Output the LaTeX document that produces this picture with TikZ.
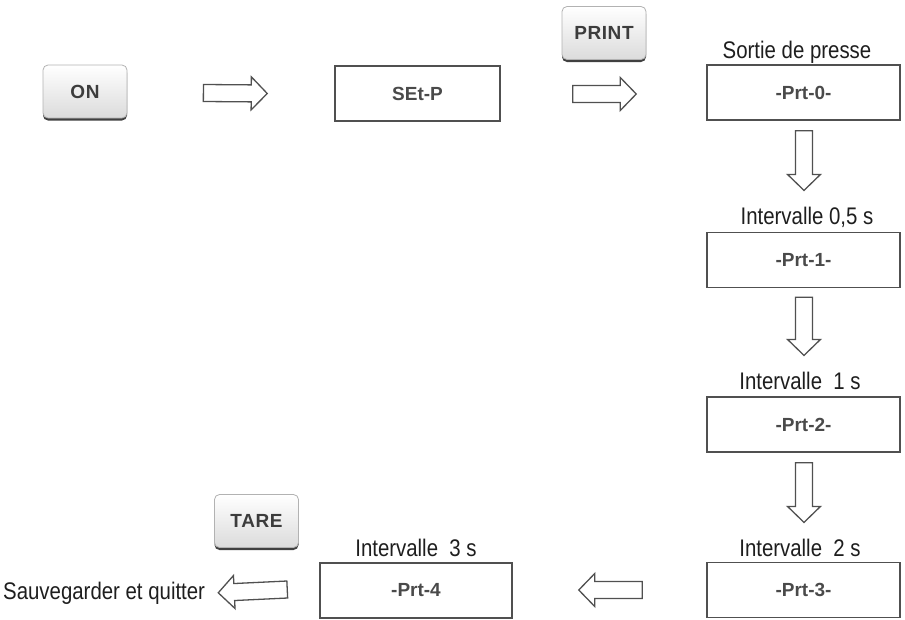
\documentclass[tikz,border=0pt]{standalone}
\usepackage{fontspec}
\setmainfont{Liberation Sans}
\newfontfamily\labelfont[FakeStretch=0.85]{Liberation Sans}
\newfontfamily\keyfont[LetterSpace=3]{Liberation Sans}
\usetikzlibrary{calc}

\definecolor{ink}{HTML}{1E1E1E}
\definecolor{frame}{HTML}{505050}
\definecolor{lcd}{HTML}{4A4A4A}
\definecolor{keyink}{HTML}{3C3C3C}

\tikzset{
  display/.style={draw=frame, line width=1.5pt, fill=white, minimum height=55pt,
    inner sep=0pt, font=\fontsize{19}{22}\selectfont\bfseries, text=lcd},
  key/.style={draw=gray!60, line width=0.8pt, rounded corners=5pt,
    top color=white, bottom color=gray!28, minimum width=84pt, minimum height=53pt,
    inner sep=0pt, font=\keyfont\fontsize{19}{22}\selectfont\bfseries, text=keyink,
    preaction={fill=black!75, transform canvas={yshift=-2.5pt}}},
  caption/.style={font=\labelfont\fontsize{24}{28}\selectfont, text=ink, inner sep=0pt},
  blockarrow/.style={draw=frame, line width=1.3pt, fill=white, line join=miter},
}

% hollow block arrow from tail #1 to tip #2
\newcommand{\hollowarrow}[2]{%
  \coordinate (hb) at ($(#2)!16pt!(#1)$);
  \draw[blockarrow] ($(#1)!8.5pt!90:(#2)$) -- ($(hb)!8.5pt!-90:(#1)$)
    -- ($(hb)!16.5pt!-90:(#1)$) -- (#2) -- ($(hb)!16.5pt!90:(#1)$)
    -- ($(hb)!8.5pt!90:(#1)$) -- ($(#1)!8.5pt!-90:(#2)$) -- cycle;}

\begin{document}
\begin{tikzpicture}[x=1pt,y=-1pt]
\useasboundingbox (0,0) rectangle (905,619);

% keys
\node[key] (on) at (85,91.5) {ON};
\node[key] (print) at (604,33) {PRINT};
\node[key] (tare) at (256.5,521) {TARE};

% display states
\node[display, minimum width=165pt] (setp) at (417.5,93.5) {SEt-P};
\node[display, minimum width=193pt] (prt0) at (803.5,92.5) {-Prt-0-};
\node[display, minimum width=193pt] (prt1) at (803.5,260) {-Prt-1-};
\node[display, minimum width=193pt] (prt2) at (803.5,424.5) {-Prt-2-};
\node[display, minimum width=193pt] (prt3) at (803.5,590) {-Prt-3-};
\node[display, minimum width=192pt] (prt4) at (416,590.5) {-Prt-4};

% captions
\node[caption, anchor=base] (c0) at (797,58) {Sortie de presse};
\node[caption, anchor=base] (c1) at (807,224) {Intervalle 0,5 s};
\node[caption, anchor=base] (c2) at (800,389) {Intervalle\ \ 1 s};
\node[caption, anchor=base] (c3) at (800,556) {Intervalle\ \ 2 s};
\node[caption, anchor=base] (c4) at (416,556) {Intervalle\ \ 3 s};
\node[caption, anchor=base west] (save) at (3,599) {Sauvegarder et quitter};

% arrow end points
\coordinate (a1t) at ($(on.east)+(76,1.5)$);
\coordinate (a1h) at ($(setp.west)+(-67,0)$);
\coordinate (a2t) at ($(setp.east)+(72,0.5)$);
\coordinate (a2h) at ($(prt0.west)+(-70,1.5)$);
\coordinate (d1t) at ($(prt0.south)+(0.5,10)$);
\coordinate (d1h) at ($(c1.north)+(-3,-16)$);
\coordinate (d2t) at ($(prt1.south)+(0.5,9)$);
\coordinate (d2h) at ($(c2.north)+(4,-16)$);
\coordinate (d3t) at ($(prt2.south)+(0.5,10)$);
\coordinate (d3h) at ($(c3.north)+(4,-16)$);
\coordinate (l1t) at ($(prt3.west)+(-64,0)$);
\coordinate (l1h) at ($(prt4.east)+(66,-0.5)$);
\coordinate (l2t) at ($(prt4.west)+(-32,-1)$);
\coordinate (l2h) at ($(save.east)+(13,0)$);

\hollowarrow{a1t}{a1h}
\hollowarrow{a2t}{a2h}
\hollowarrow{d1t}{d1h}
\hollowarrow{d2t}{d2h}
\hollowarrow{d3t}{d3h}
\hollowarrow{l1t}{l1h}
\hollowarrow{l2t}{l2h}
\end{tikzpicture}
\end{document}
